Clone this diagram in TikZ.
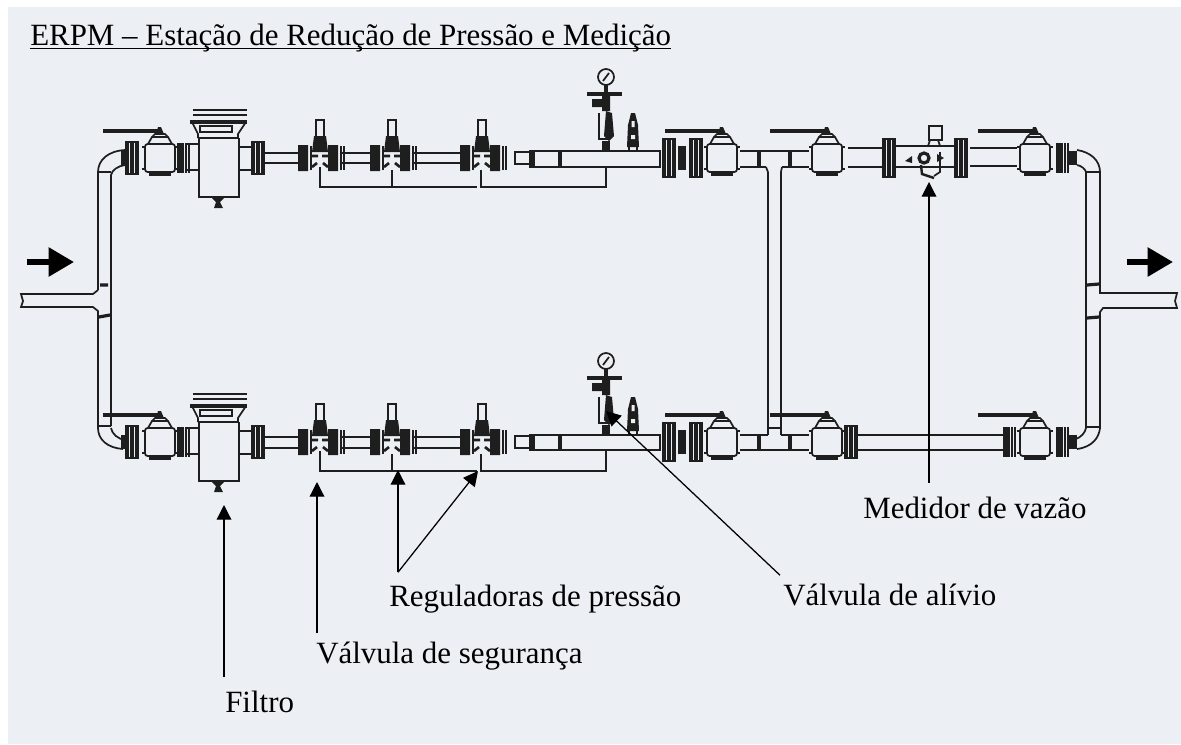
\documentclass[tikz,border=0pt]{standalone}
\usepackage{fontspec}
\setmainfont{Liberation Serif}
\usetikzlibrary{arrows.meta}
\newcommand{\titlerule}[1]{\setbox0\hbox{#1}\rlap{\rule[-3pt]{\wd0}{1.1pt}}\box0}
\definecolor{sheetcolor}{HTML}{ECF0F4}
\definecolor{pipecolor}{HTML}{1E1E1E}

\begin{document}
\begin{tikzpicture}[x=0.75pt,y=-0.75pt,>={Triangle[length=11pt,width=11pt]},line cap=butt,
 pipe/.style={draw=pipecolor,line width=1.3pt},
 heavy/.style={draw=pipecolor,line width=2.4pt},
 label text/.style={anchor=base west,inner sep=0pt,font=\fontsize{23.2}{28}\selectfont},
 label arrow/.style={->,black,line width=0.95pt},
 flow arrow/.style={-{Triangle[length=19pt,width=21pt]},black,line width=4.2pt},
 ballvalve/.pic={
  \draw[pipe,rounded corners=2] (-15,-14) rectangle (15,14);
  \draw[pipe] (-15,-11) -- (-18,-11) (15,-11) -- (18,-11) (-15,11) -- (-18,11) (15,11) -- (18,11);
  \draw[pipe] (-12,-14) -- (-8,-21) -- (8,-21) -- (12,-14) (-8,-21) -- (-5,-24) -- (5,-24) -- (8,-21);
  \draw[heavy,line width=3pt] (-57,-27) -- (-2,-27);
  \fill[pipecolor] (-4,-24) -- (-2,-31) -- (1,-31) -- (4,-24) -- cycle;
  \draw[heavy] (-11,16) -- (11,16);
 },
 flange/.pic={
  \foreach \x in {1,6,11}
   \draw[heavy] (\x,-16) -- (\x,16);
  \draw[pipe] (-1,-16) -- (13,-16) (-1,16) -- (13,16);
 },
 bigflange/.pic={
  \foreach \x in {1,6,11}
   \draw[heavy] (\x,-19) -- (\x,19);
  \draw[pipe] (-1,-19) -- (13,-19) (-1,19) -- (13,19);
 },
 darkflange/.pic={
  \fill[pipecolor] (0,-15) rectangle (7,15);
  \foreach \x in {9,12}
   \draw[pipe] (\x,-15) -- (\x,15);
 },
 regulator/.pic={
  \fill[pipecolor] (-22,-13) rectangle (-12,13) (8,-13) rectangle (18,13);
  \draw[pipe] (-9,-12) -- (-9,12) (21,-12) -- (21,12) (24,-12) -- (24,12);
  \draw[pipe] (-4,-38) rectangle (4,-20);
  \fill[pipecolor] (-6,-22) -- (6,-22) -- (8,-6) -- (-8,-6) -- cycle;
  \draw[heavy,line width=2pt] (-8,-2) -- (-2,-2) (2,-2) -- (8,-2) (-8,9) -- (-3,5) (3,5) -- (8,9);
 },
 strainer/.pic={
  \draw[pipe] (-25,-48) -- (29,-48) (-25,-43) -- (29,-43);
  \draw[heavy] (-28,-36) -- (29,-36);
  \draw[pipe] (-18,-32) rectangle (14,-26);
  \draw[pipe] (-26,-36) -- (-20,-24) -- (-20,-20) (28,-36) -- (20,-24) -- (20,-20);
  \draw[heavy,line width=1.6pt] (-20,-20) -- (20,-20);
  \draw[pipe] (-19,-20) -- (-19,39) -- (21,39) -- (21,-20);
  \fill[pipecolor] (-6,40) -- (6,40) -- (2,44) -- (5,50) -- (-4,50) -- (-2,44) -- cycle;
 },
 gauge/.pic={
  \draw[pipe] (0,-74) circle [radius=8];
  \draw[pipe] (-3,-70) -- (3,-78);
  \draw[heavy] (-19,-57) -- (16,-57) (0,-66) -- (0,-42);
  \fill[pipecolor] (-14,-52) rectangle (4,-44) (-4,-58) rectangle (4,-40);
  \fill[pipecolor] (0,-40) -- (6,-38) -- (8,-15) -- (3,-10) -- (-2,-15) -- cycle;
  \draw[pipe] (-7,-38) -- (-7,-12) -- (2,-12);
  \fill[pipecolor] (-4,-10) rectangle (4,0);
 },
 relief/.pic={
  \fill[pipecolor] (-2,-38) -- (2,-38) -- (5,-26) -- (6,-4) -- (-6,-4) -- (-5,-26) -- cycle;
  \fill[sheetcolor] (-1.5,-30) rectangle (1.5,-24) (-2,-16) rectangle (2,-12);
  \draw[pipe] (-4,-4) -- (-4,0) (4,-4) -- (4,0);
 },
 meter/.pic={
  \draw[heavy] (0,0) circle [radius=5];
  \draw[pipe] (5,-32) rectangle (18,-18);
  \draw[pipe] (6,-18) -- (4,-12) (14,-18) -- (16,-12);
  \draw[heavy,line width=1.8pt] (-3,7) -- (-2,16) -- (10,20);
  \draw[pipe] (16,-6) -- (16,14) -- (10,18);
  \fill[pipecolor] (-19,3) -- (-12,-2) -- (-12,5) -- cycle;
  \fill[pipecolor] (13,-4) -- (20,0) -- (13,4) -- cycle;
 }]

 \fill[white] (0,0) rectangle (1181,744);
 \fill[sheetcolor] (8,7) rectangle (1181,744);

 % both lines carry the same parts
 \foreach \y/\ya/\yb/\yc/\yd in {158/153/163/151/167,442/437/448/435/450} {
  \draw[pipe] (265,\ya) -- (298,\ya) (265,\yb) -- (298,\yb);
  \draw[pipe] (342,\ya) -- (370,\ya) (342,\yb) -- (370,\yb);
  \draw[pipe] (414,\ya) -- (460,\ya) (414,\yb) -- (460,\yb);
  \draw[pipe] (530,\yc) rectangle (660,\yd);
  \draw[heavy] (560,\yc) -- (560,\yd) (533,\yc) -- (533,\yd);
  \draw[pipe] (186,\y-14) -- (200,\y-14) (186,\y+12) -- (200,\y+12);
  \draw[pipe] (239,\y-11) -- (252,\y-11) (239,\y+12) -- (252,\y+12);
  \pic at (160,\y) {ballvalve};
  \pic at (722,\y) {ballvalve};
  \pic at (827,\y) {ballvalve};
  \pic at (1035,\y) {ballvalve};
  \pic at (218,\y) {strainer};
  \pic at (126,\y) {flange};
  \pic at (177,\y) {darkflange};
  \pic at (252,\y) {flange};
  \pic at (663,\y) {bigflange};
  \pic at (690,\y) {bigflange};
  \fill[pipecolor] (678,\y-12) rectangle (686,\y+12);
  \pic at (1056,\y) {darkflange};
  \fill[pipecolor] (1069,\y-7) rectangle (1077,\y+7);
  \fill[pipecolor] (121,\y-7) rectangle (125,\y+7);
  \pic at (320,\y) {regulator};
  \pic at (392,\y) {regulator};
  \pic at (482,\y) {regulator};
  \pic at (606,\yc) {gauge};
  \pic at (633,\yc) {relief};
  \draw[pipe] (515,\y-6) rectangle (530,\y+6);
  \draw[pipe] (320,\y+9) -- (320,\y+29) -- (477,\y+29);
  \draw[pipe] (392,\y+12) -- (392,\y+29);
  \draw[pipe] (481,\y+12) -- (481,\y+29) -- (606,\y+29) -- (606,\yd);
  \draw[pipe] (740,\yc) -- (768,\yc) (740,\yd) -- (766,\yd);
  \draw[heavy] (759,\yc) -- (759,\yd) (790,\yc) -- (790,\yd);
 }

 % upper line, right part
 \draw[pipe] (768,151) -- (809,151) (782,167) -- (809,167);
 \draw[pipe] (848,148) -- (883,148) (848,167) -- (883,167);
 \draw[pipe] (895,146) -- (955,146) (895,167) -- (955,167);
 \draw[pipe] (970,148) -- (1017,148) (970,166) -- (1017,166);
 \pic at (883,158) {bigflange};
 \pic at (955,158) {bigflange};
 \pic at (924,158) {meter};

 % lower line, right part
 \draw[pipe] (781,435) -- (809,435) (766,450) -- (809,450);
 \draw[pipe] (858,435) -- (1003,435) (858,450) -- (1003,450);
 \pic at (845,442) {flange};
 \pic at (1003,442) {darkflange};

 % branch between the lines
 \draw[pipe] (768,172) -- (768,428) -- (781,428) (781,172) -- (781,435);
 \draw[pipe] (768,172) -- (766,167) (781,172) -- (782,167);
 \draw[pipe] (768,428) -- (768,435);

 % left riser with inlet
 \draw[pipe] (125,150) .. controls (108,151) and (98,160) .. (98,172) -- (98,290);
 \draw[pipe] (125,165) .. controls (118,166) and (112,170) .. (111,175) -- (111,426);
 \draw[pipe] (98,172) -- (111,172);
 \draw[pipe] (98,290) -- (93,294) -- (21,294) -- (23,301) -- (21,307) -- (93,307) -- (98,311) -- (98,428);
 \draw[heavy] (100,285) -- (108,285) (99,317) -- (110,315);
 \draw[pipe] (98,428) .. controls (98,440) and (108,448) .. (123,449);
 \draw[pipe] (111,428) .. controls (112,434) and (118,439) .. (125,440);
 \draw[pipe] (98,426) -- (111,426);

 % right riser with outlet
 \draw[pipe] (1077,150) .. controls (1090,152) and (1100,160) .. (1100,172) -- (1100,293) -- (1103,293) -- (1177,293) -- (1175,301) -- (1177,308) -- (1103,308) -- (1100,312) -- (1100,428);
 \draw[pipe] (1077,165) .. controls (1082,166) and (1085,169) .. (1086,172) -- (1086,428);
 \draw[pipe] (1086,172) -- (1100,172) (1086,427) -- (1100,427);
 \draw[heavy] (1087,285) -- (1099,284) (1087,318) -- (1099,317);
 \draw[pipe] (1100,428) .. controls (1099,438) and (1092,447) .. (1077,449);
 \draw[pipe] (1086,428) .. controls (1085,433) and (1081,437) .. (1076,439);

 % labels
 \node[label text] (title) at (30,45) {\titlerule{ERPM – Estação de Redução de Pressão e Medição}};
 \node[label text] (filtro) at (225,712) {Filtro};
 \node[label text] (seguranca) at (316,663) {Válvula de segurança};
 \node[label text] (reguladoras) at (389,606) {Reguladoras de pressão};
 \node[label text] (alivio) at (783,605) {Válvula de alívio};
 \node[label text] (medidor) at (863,518) {Medidor de vazão};

 \coordinate (filtro tip) at (224,505);
 \coordinate (seguranca tip) at (317,482);
 \coordinate (reguladora one) at (398,470);
 \coordinate (reguladora two) at (478,471);
 \coordinate (alivio tip) at (606,411);
 \coordinate (medidor tip) at (929,182);

 \draw[label arrow] ([xshift=-0.75pt,yshift=10pt]filtro.north west) -- (filtro tip);
 \draw[label arrow] ([xshift=0.75pt,yshift=6pt]seguranca.north west) -- (seguranca tip);
 \draw[label arrow] ([xshift=6.75pt,yshift=9pt]reguladoras.north west) -- (reguladora one);
 \draw[label arrow] ([xshift=6.75pt,yshift=9pt]reguladoras.north west) -- (reguladora two);
 \draw[label arrow] ([xshift=-2.25pt,yshift=6pt]alivio.north west) -- (alivio tip);
 \draw[label arrow] ([xshift=49.5pt,yshift=10pt]medidor.north west) -- (medidor tip);

 \coordinate (inlet tail) at (27,262);
 \coordinate (inlet tip) at (74,262);
 \coordinate (outlet tail) at (1127,262);
 \coordinate (outlet tip) at (1173,262);
 \draw[flow arrow] (inlet tail) -- (inlet tip);
 \draw[flow arrow] (outlet tail) -- (outlet tip);
\end{tikzpicture}
\end{document}
